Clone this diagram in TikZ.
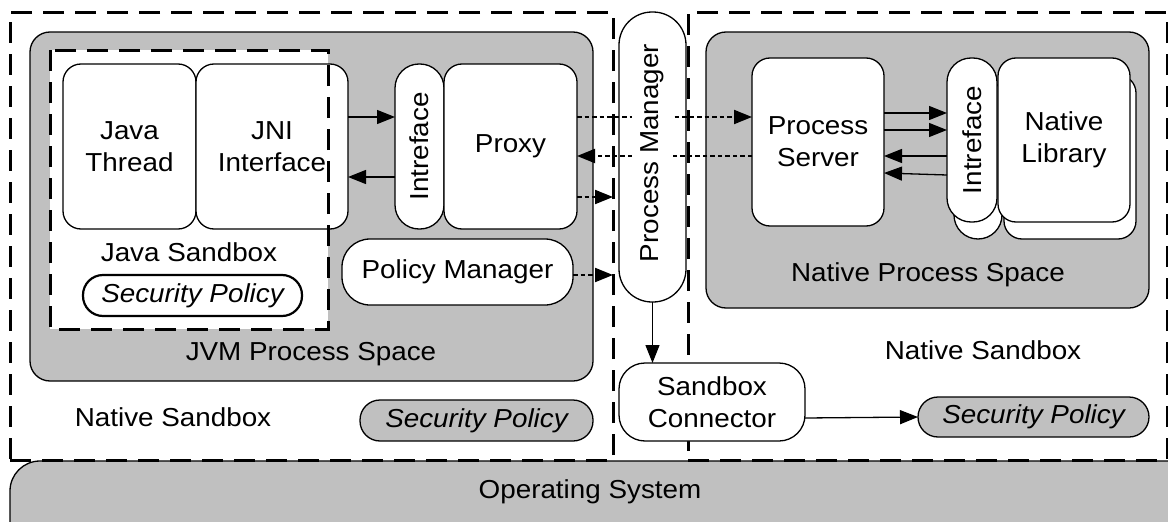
\documentclass[tikz,border=0pt]{standalone}
\usepackage{fontspec}
\setmainfont{Liberation Sans}[FakeStretch=1.07]
\usepackage{tikz}
\usetikzlibrary{arrows.meta,positioning,calc}
\definecolor{spacegray}{RGB}{192,192,192}
\newcommand{\figfont}{\fontsize{26}{32}\selectfont}
\tikzset{
  >={Triangle[length=18pt,width=14pt]},
  box/.style={draw, line width=1.3pt, fill=white, rounded corners=18pt, align=center, inner sep=0pt, outer sep=0pt},
  pill/.style={box, rounded corners=24pt},
  space/.style={box, fill=spacegray, rounded corners=20pt},
  policy/.style={box, rounded corners=20pt, font=\figfont\itshape},
  sandbox/.style={draw, line width=3pt, dash pattern=on 21pt off 11pt, inner sep=0pt, outer sep=0pt},
  lbl/.style={inner sep=0pt, align=center},
  conn/.style={->, line width=1.3pt},
  dconn/.style={->, line width=2pt, dash pattern=on 4.5pt off 3pt},
}

\begin{document}
\begin{tikzpicture}[x=1pt, y=-1pt, font=\figfont]
  \useasboundingbox (0,0) rectangle (1168,522);
  \clip (0,0) rectangle (1168,522);

  % operating system and sandboxes
  \node[space, rounded corners=30pt, minimum width=1190pt, minimum height=90pt, anchor=north west] (os) at (10,461) {};
  \node[lbl] (ostxt) at (590,492) {Operating System};
  \node[sandbox, minimum width=603pt, minimum height=448pt, anchor=north west] (sbL) at (10,12) {};
  \node[sandbox, minimum width=479pt, minimum height=448pt, anchor=north west] (sbR) at (688,12) {};

  % JVM side
  \node[space, minimum width=563pt, minimum height=349pt] (jvm) at (311.5,206.5) {};
  \node[fill=white, inner sep=0pt, outer sep=0pt, minimum width=278pt, minimum height=279pt, anchor=north west] (javasb) at (50,50) {};
  \node[box, minimum width=133pt, minimum height=165pt] (thread) at (129.5,146.5) {Java\\Thread};
  \node[box, minimum width=152pt, minimum height=165pt] (jni) at (272,146.5) {JNI\\Interface};
  \node[pill, minimum width=49pt, minimum height=165pt] (intfL) at (419.5,146.5) {\rotatebox{90}{Intreface}};
  \node[box, minimum width=133pt, minimum height=165pt] (proxy) at (510.5,146.5) {Proxy};
  \node[box, rounded corners=28pt, minimum width=231pt, minimum height=66pt] (polmgr) at (457.5,272) {Policy Manager};
  \node[policy, line width=2.2pt, minimum width=219pt, minimum height=41pt] (secJ) at (192.5,295.5) {Security Policy};
  \draw[sandbox] (javasb.north west) rectangle (javasb.south east);
  \node[lbl] (javasbtxt) at (189,252) {Java Sandbox};
  \node[lbl] (jvmtxt) at (311,354) {JVM Process Space};
  \node[lbl] (nsbLtxt) at (173,417) {Native Sandbox};
  \node[policy, fill=spacegray, minimum width=233pt, minimum height=41pt] (secL) at (476.5,420.5) {Security Policy};

  % native side
  \node[space, minimum width=443pt, minimum height=276pt] (nps) at (927.5,170) {};
  \node[pill, minimum width=48pt, minimum height=164pt] (intfR2) at (978,157) {};
  \node[box, minimum width=132pt, minimum height=164pt] (natlib2) at (1070,157) {};
  \node[box, minimum width=132pt, minimum height=168pt] (psrv) at (818,142) {Process\\Server};
  \node[pill, minimum width=50pt, minimum height=164pt] (intfR) at (972,140) {\rotatebox{90}{Intreface}};
  \node[box, minimum width=132pt, minimum height=164pt] (natlib) at (1064,140) {Native\\Library};
  \node[lbl] (npstxt) at (928,275) {Native Process Space};
  \node[lbl] (nsbRtxt) at (983,350) {Native Sandbox};

  % middle
  \node[box, rounded corners=33pt, minimum width=67pt, minimum height=290pt] (pmgr) at (652.5,157) {};
  \node[box, rounded corners=26pt, minimum width=186pt, minimum height=78pt] (sbconn) at (712,402) {Sandbox\\Connector};
  \node[policy, fill=spacegray, minimum width=231pt, minimum height=40pt] (secR) at (1033.5,417) {Security Policy};

  % connectors
  \coordinate (pxout) at ([yshift=-50.5pt]proxy.east);
  \coordinate (pmout) at ([yshift=-3pt]polmgr.east);
  \draw[conn] ([yshift=29.5pt]jni.east) -- ([yshift=29.5pt]intfL.west);
  \draw[conn] ([yshift=-30.5pt]intfL.west) -- ([yshift=-30.5pt]jni.east);
  \draw[dconn] ([yshift=29.5pt]proxy.east) -- ([yshift=25pt]psrv.west);
  \draw[dconn] ([yshift=-14pt]psrv.west) -- ([yshift=-9.5pt]proxy.east);
  \draw[dconn] (pxout) -- (pxout -| sbL.east);
  \draw[dconn] (pmout) -- (pmout -| sbL.east);
  \draw[conn] ([yshift=29pt]psrv.east) -- ([yshift=27pt]intfR.west);
  \draw[conn] ([yshift=12pt]psrv.east) -- ([yshift=10pt]intfR.west);
  \draw[conn] ([yshift=-16pt]intfR.west) -- ([yshift=-14pt]psrv.east);
  \draw[conn] ([yshift=-35pt]intfR.west) -- ([yshift=-31pt]psrv.east);
  \draw[conn] (pmgr.south) -- (pmgr.south |- sbconn.north);
  \draw[conn] ([yshift=-16pt]sbconn.east) -- (secR.west);
  \node[lbl, fill=white, inner xsep=8pt] (pmgrtxt) at (652,153) {\rotatebox{90}{Process Manager}};
\end{tikzpicture}
\end{document}
